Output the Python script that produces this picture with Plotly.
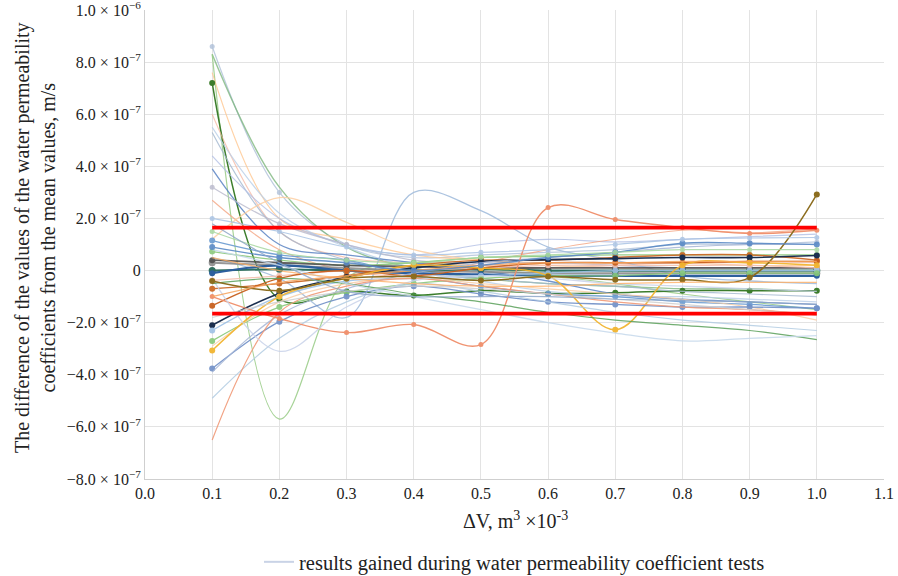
import plotly.graph_objects as go

# x positions (ΔV, m^3 x10^-3)
dv = [0.1, 0.2, 0.3, 0.4, 0.5, 0.6, 0.7, 0.8, 0.9, 1.0]

# series values, in units of 1e-7 m/s
pale_top = [8.6, 3.0, 1.0, 0.5, 0.6, 0.7, 0.8, 1.0, 1.0, 1.1]
green_a = [8.3, 3.2, 0.9, 0.1, -0.3, -0.5, -0.6, -0.7, -0.7, -0.8]
green_dip = [8.3, -5.7, -0.3, 0.3, 0.1, -0.2, -0.5, -0.9, -1.2, -1.5]
orange_light = [7.6, 2.0, 1.2, 0.6, 0.4, 0.3, 0.3, 0.3, 0.2, 0.2]
green_dark = [7.2, -1.1, -0.8, -0.96, -0.77, -0.88, -0.85, -0.77, -0.77, -0.77]
salmon_light = [6.0, 1.5, 0.5, 0.3, 0.2, 0.1, 0.2, 0.3, 0.3, 0.3]
lightblue_b = [5.5, 2.2, 0.9, 0.1, -0.4, -0.8, -1.0, -1.0, -1.1, -1.2]
grayblue_a = [5.3, 1.5, 0.4, -0.1, -0.3, -0.5, -0.6, -0.8, -0.9, -1.0]
lavender_a = [4.4, 2.0, 1.0, 0.6, 1.0, 1.2, 1.1, 1.2, 1.3, 1.4]
blue_a = [3.9, 1.0, 0.6, 0.3, 0.0, -0.4, -0.9, -1.1, -1.2, -1.3]
gray_b = [3.2, 1.8, 1.0, 0.4, 0.3, 0.3, 0.2, 0.1, 0.1, 0.1]
salmon_b = [2.7, 0.8, 0.0, -0.2, 0.3, 0.8, 1.2, 1.55, 1.45, 1.6]
hump_blue = [0.5, -0.3, -1.8, 3.0, 2.3, 0.9, 0.4, -0.2, -0.4, -0.5]
hump_orange = [1.2, 2.8, 1.85, 0.8, 0.4, 0.2, 0.1, 0.0, 0.0, 0.0]
blue_m = [1.15, 0.6, 0.4, -0.2, -0.6, -0.9, -1.0, -1.2, -1.3, -1.45]
green_m = [0.73, 0.4, 0.2, 0.3, 0.5, 0.55, 0.6, 0.6, 0.6, 0.6]
gray_m = [0.3, 0.2, 0.1, 0.0, -0.05, -0.1, -0.1, -0.1, -0.1, -0.1]
teal_dark = [0.0, 0.05, 0.0, 0.0, 0.05, 0.0, 0.0, 0.0, 0.0, 0.0]
gray_dark = [0.4, 0.3, 0.2, 0.15, 0.1, 0.1, 0.1, 0.1, 0.1, 0.1]
blue_dark = [-0.1, 0.2, 0.0, -0.1, -0.15, -0.2, -0.2, -0.2, -0.2, -0.2]
pink_m = [-0.38, -0.2, 0.0, 0.0, 0.1, 0.2, 0.2, 0.2, 0.2, 0.1]
darkorange_a = [-0.7, -0.5, -0.2, 0.2, 0.4, 0.4, 0.5, 0.6, 0.6, 0.4]
darkorange_b = [-1.35, -0.3, 0.0, -0.2, 0.1, 0.3, 0.3, 0.3, 0.35, 0.35]
navy = [-2.1, -0.88, -0.25, 0.1, 0.35, 0.42, 0.46, 0.5, 0.5, 0.58]
lightblue_m = [-2.3, -1.0, -0.4, -0.3, -0.2, -0.1, 0.0, 0.0, 0.0, 0.0]
green_m2 = [-2.7, -1.4, -0.84, -0.5, -0.3, -0.2, -0.2, -0.1, -0.1, -0.1]
peach = [-2.9, -1.2, -0.5, -0.3, -0.5, -0.7, -0.9, -1.1, -1.4, -1.9]
yellow = [-3.07, -1.0, -0.3, 0.2, 0.1, -0.2, -2.27, 0.2, 0.3, 0.2]
blue_m2 = [-3.76, -1.96, -1.0, -0.6, -0.9, -1.2, -1.3, -1.4, -1.4, -1.45]
bluegray_b = [-3.9, -1.7, -0.7, -0.1, 0.3, 0.5, 0.7, 0.9, 1.0, 1.0]
lightblue_low = [-4.9, -2.6, -1.2, -0.5, -0.8, -1.2, -1.6, -1.9, -2.1, -2.3]
salmon_low = [-6.5, -1.6, -0.6, -0.3, -0.6, -0.9, -1.2, -1.4, -1.5, -1.7]
salmon_wave = [-1.0, -1.84, -2.38, -2.07, -2.84, 2.42, 1.96, 1.65, 1.42, 1.55]
lilac_dip = [-0.3, -3.1, -1.4, -0.4, -0.2, -0.3, -0.5, -0.6, -0.7, -0.8]
green_low = [-0.5, -0.3, -0.5, -0.9, -1.2, -1.6, -1.9, -2.1, -2.3, -2.65]
lightblue_low2 = [0.8, 0.2, -0.5, -1.0, -1.5, -2.0, -2.4, -2.7, -2.6, -2.5]
olive = [-0.4, -0.77, -0.3, -0.23, -0.38, -0.23, -0.35, -0.35, -0.27, 2.92]
orange_mid = [-1.0, -0.46, -0.2, 0.0, 0.2, 0.3, 0.3, 0.35, 0.35, 0.35]
blue_right = [0.9, 0.5, 0.3, 0.0, 0.2, 0.5, 0.7, 1.05, 1.05, 1.0]
lightgreen_right = [1.5, 0.7, 0.4, 0.3, 0.5, 0.6, 0.7, 0.8, 0.8, 0.8]
lightgray_low = [-1.8, -1.2, -0.8, -0.6, -0.7, -0.9, -1.1, -1.3, -1.5, -1.7]
orange_b = [0.5, 0.0, -0.3, -0.5, -0.6, -0.6, -0.5, -0.45, -0.45, -0.45]
lightblue_top = [2.0, 1.5, 0.9, 0.6, 0.7, 0.8, 1.0, 1.2, 1.25, 1.27]
bluegray_mid = [1.8, 0.3, -0.8, -1.0, -1.0, -1.0, -1.1, -1.15, -1.2, -1.3]

limit = 1.65  # ± limit, 1e-7 m/s

yticks = [1.0e-6, 8e-7, 6e-7, 4e-7, 2e-7, 0, -2e-7, -4e-7, -6e-7, -8e-7]
yticktext = ["1.0 × 10<sup>−6</sup>", "8.0 × 10<sup>−7</sup>", "6.0 × 10<sup>−7</sup>",
             "4.0 × 10<sup>−7</sup>", "2.0 × 10<sup>−7</sup>", "0",
             "−2.0 × 10<sup>−7</sup>", "−4.0 × 10<sup>−7</sup>",
             "−6.0 × 10<sup>−7</sup>", "−8.0 × 10<sup>−7</sup>"]
xticks = [0.0, 0.1, 0.2, 0.3, 0.4, 0.5, 0.6, 0.7, 0.8, 0.9, 1.0, 1.1]

# (values, colour, line width, marker size, opacity)
styles = [
    (pale_top, "#a9bcd6", 1.2, 5, 0.75),
    (green_a, "#7fb87f", 1.4, 0, 0.8),
    (green_dip, "#98cc86", 1.2, 0, 0.85),
    (orange_light, "#ffc891", 1.2, 0, 0.8),
    (green_dark, "#3c7d2c", 1.5, 6, 1.0),
    (salmon_light, "#f7b29a", 1.1, 0, 0.7),
    (lightblue_b, "#b9cfe8", 1.3, 0, 0.8),
    (grayblue_a, "#a3b8d0", 1.2, 0, 0.8),
    (lavender_a, "#b3c0e6", 1.2, 0, 0.8),
    (blue_a, "#5b84c4", 1.3, 0, 0.85),
    (gray_b, "#b9b9cc", 1.2, 5, 0.8),
    (salmon_b, "#f4a582", 1.1, 0, 0.8),
    (hump_blue, "#a4bedd", 1.3, 0, 0.9),
    (hump_orange, "#fdcfa2", 1.3, 0, 0.85),
    (blue_m, "#6a9bd1", 1.3, 6, 0.9),
    (green_m, "#8cc97d", 1.3, 6, 0.9),
    (gray_m, "#8c8c8c", 2.0, 7, 0.9),
    (teal_dark, "#2f6f5f", 2.2, 7, 1.0),
    (gray_dark, "#505050", 1.8, 6, 0.9),
    (blue_dark, "#2c5f9e", 2.2, 6, 1.0),
    (pink_m, "#f5c1b0", 1.3, 6, 0.9),
    (darkorange_a, "#cc6a28", 1.4, 6, 0.95),
    (darkorange_b, "#c8601e", 1.4, 6, 0.95),
    (navy, "#1b2f4f", 1.6, 6, 1.0),
    (lightblue_m, "#9ec1e6", 1.3, 6, 0.9),
    (green_m2, "#88c979", 1.3, 6, 0.9),
    (peach, "#f9cfa8", 1.2, 0, 0.85),
    (yellow, "#f2b530", 1.5, 6, 0.95),
    (blue_m2, "#6f8fc7", 1.3, 6, 0.9),
    (bluegray_b, "#a6b6d6", 1.2, 0, 0.85),
    (lightblue_low, "#b3cde3", 1.2, 0, 0.85),
    (salmon_low, "#f19a78", 1.2, 0, 0.9),
    (salmon_wave, "#f08e6a", 1.4, 5, 0.95),
    (lilac_dip, "#c9d3ea", 1.3, 0, 0.85),
    (green_low, "#5aa05a", 1.2, 0, 0.85),
    (lightblue_low2, "#c6d9ec", 1.3, 0, 0.85),
    (olive, "#8c6d1f", 1.5, 6, 1.0),
    (orange_mid, "#f7a35c", 1.3, 0, 0.85),
    (blue_right, "#5a8ac6", 1.4, 6, 0.9),
    (lightgreen_right, "#a8d8a0", 1.2, 5, 0.85),
    (lightgray_low, "#cfcfcf", 1.2, 0, 0.85),
    (orange_b, "#ffb066", 1.2, 0, 0.8),
    (lightblue_top, "#aac4e4", 1.2, 5, 0.85),
    (bluegray_mid, "#8fa7c9", 1.2, 0, 0.85),
]

fig = go.Figure()

for vals, col, lw, ms, op in styles:
    fig.add_trace(go.Scatter(
        x=dv, y=[v * 1e-7 for v in vals],
        mode="lines+markers" if ms else "lines",
        line=dict(color=col, width=lw, shape="spline", smoothing=1.0),
        marker=dict(size=ms, color=col) if ms else None,
        opacity=op,
        showlegend=False,
        hoverinfo="skip",
    ))

# limit lines
for sgn in (1, -1):
    fig.add_trace(go.Scatter(
        x=[dv[0], dv[-1]], y=[sgn * limit * 1e-7] * 2,
        mode="lines", line=dict(color="#ff0000", width=3.8),
        showlegend=False, hoverinfo="skip",
    ))

# legend entry
fig.add_trace(go.Scatter(
    x=[None], y=[None], mode="lines",
    line=dict(color="#c9d3e6", width=2),
    name="results gained during water permeability coefficient tests",
    showlegend=True,
))

serif = "Liberation Serif, Times New Roman, serif"
txt = "#222222"
L, R, T, B = 145, 14, 10, 97
PW = 898 - L - R
PH = 576 - T - B

fig.update_layout(
    width=898, height=576,
    margin=dict(l=L, r=R, t=T, b=B, autoexpand=False),
    paper_bgcolor="white", plot_bgcolor="white",
    font=dict(family=serif, color=txt, size=16),
    showlegend=True,
    legend=dict(orientation="h", x=0.5, xanchor="center",
                y=(T + PH - 562) / PH, yanchor="middle",
                font=dict(family=serif, size=20.5, color=txt)),
    xaxis=dict(range=[0, 1.1], tickvals=xticks, ticktext=[f"{t:.1f}" for t in xticks],
               showgrid=True, gridcolor="#e3e3e3", gridwidth=1,
               showline=True, linecolor="#cfcfcf", zeroline=False,
               ticks="", automargin=False, ticklabeloverflow="allow",
               tickfont=dict(family=serif, size=16, color=txt)),
    yaxis=dict(range=[-8.0001e-7, 1.0001e-6], tickvals=yticks, ticktext=yticktext,
               showgrid=True, gridcolor="#e3e3e3", gridwidth=1,
               showline=True, linecolor="#cfcfcf", zeroline=False,
               ticks="", automargin=False, ticklabeloverflow="allow",
               tickfont=dict(family=serif, size=16, color=txt)),
    annotations=[
        dict(text="ΔV, m<sup>3</sup> ×10<sup>-3</sup>", xref="paper", yref="paper",
             x=(515 - L) / PW, y=(T + PH - 520) / PH, xanchor="center", yanchor="middle",
             showarrow=False, font=dict(family=serif, size=20, color=txt)),
        dict(text="The difference of the values of the water permeability<br>coefficients from the mean values, m/s",
             xref="paper", yref="paper", textangle=-90,
             x=(35 - L) / PW, y=(T + PH - 238) / PH, xanchor="center", yanchor="middle",
             showarrow=False, font=dict(family=serif, size=20, color=txt)),
    ],
)

fig.write_html("out.html", config={"displayModeBar": False},
               post_script="document.body.style.margin='0';document.body.style.padding='0';")
